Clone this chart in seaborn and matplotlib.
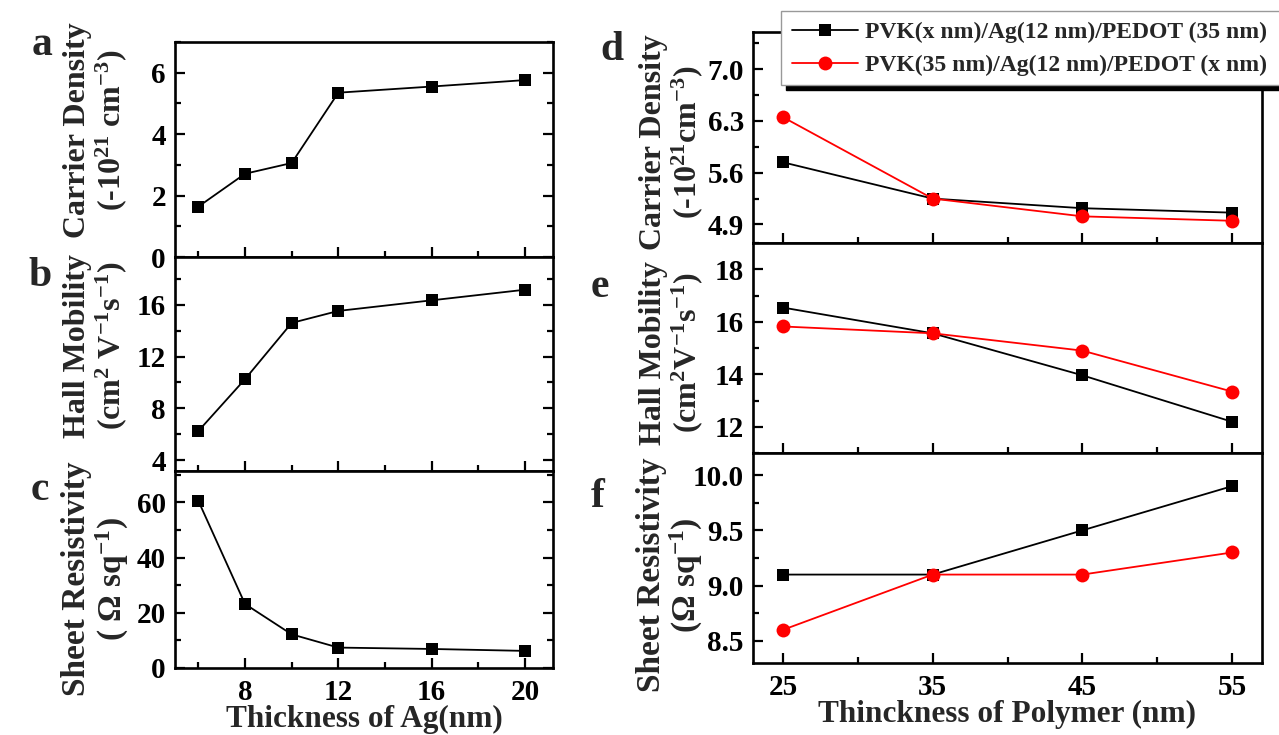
import numpy as np
import pandas as pd
import matplotlib
matplotlib.use("Agg")
import matplotlib.pyplot as plt
from matplotlib.patches import Rectangle
from matplotlib.ticker import MultipleLocator, FormatStrFormatter
import seaborn as sns

# ---- data: Ag thickness series (panels a-c) ----
ag_thickness = [6, 8, 10, 12, 16, 20]
carrier_density_ag = [1.64, 2.71, 3.06, 5.35, 5.55, 5.76]
hall_mobility_ag = [6.24, 10.25, 14.6, 15.53, 16.35, 17.17]
sheet_res_ag = [60.6, 23.2, 12.2, 7.4, 6.9, 6.2]

# ---- data: polymer thickness series (panels d-f) ----
polymer_thickness = [25, 35, 45, 55]
series_names = ["PVK(x nm)/Ag(12 nm)/PEDOT (35 nm)",
                "PVK(35 nm)/Ag(12 nm)/PEDOT (x nm)"]
carrier_density_pvk = [5.74, 5.25, 5.12, 5.06]
carrier_density_pedot = [6.35, 5.25, 5.01, 4.95]
hall_mobility_pvk = [16.54, 15.56, 13.96, 12.19]
hall_mobility_pedot = [15.82, 15.56, 14.9, 13.34]
sheet_res_pvk = [9.1, 9.1, 9.5, 9.9]
sheet_res_pedot = [8.6, 9.1, 9.1, 9.3]

sns.set_style("ticks")
plt.rcParams["font.family"] = ["Liberation Serif", "DejaVu Serif"]
plt.rcParams["font.weight"] = "bold"
plt.rcParams["axes.labelweight"] = "bold"
plt.rcParams["mathtext.fontset"] = "custom"
plt.rcParams["mathtext.rm"] = "Liberation Serif:bold"
plt.rcParams["mathtext.it"] = "Liberation Serif:bold"
plt.rcParams["mathtext.bf"] = "Liberation Serif:bold"
plt.rcParams["mathtext.default"] = "rm"

W, H = 1279, 735
fig = plt.figure(figsize=(W / 100, H / 100), dpi=100)


def px_axes(left, top, right, bottom):
    return fig.add_axes([left / W, 1 - bottom / H, (right - left) / W, (bottom - top) / H])


ax_a = px_axes(175, 42, 553, 257)
ax_b = px_axes(175, 257, 553, 471)
ax_c = px_axes(175, 471, 553, 668)
ax_d = px_axes(753, 32, 1262, 243)
ax_e = px_axes(753, 243, 1262, 453)
ax_f = px_axes(753, 453, 1262, 663)

df_ag = pd.DataFrame({"thk": ag_thickness, "n": carrier_density_ag,
                      "mu": hall_mobility_ag, "rs": sheet_res_ag})
df_pvk = pd.DataFrame({"thk": polymer_thickness, "n": carrier_density_pvk,
                       "mu": hall_mobility_pvk, "rs": sheet_res_pvk})
df_pedot = pd.DataFrame({"thk": polymer_thickness, "n": carrier_density_pedot,
                         "mu": hall_mobility_pedot, "rs": sheet_res_pedot})

line_kw = dict(linewidth=1.3, markeredgewidth=0)

for ax, col in [(ax_a, "n"), (ax_b, "mu"), (ax_c, "rs")]:
    sns.lineplot(data=df_ag, x="thk", y=col, ax=ax, color="black", marker="s",
                 markersize=8.5, legend=False, **line_kw)

for ax, col in [(ax_d, "n"), (ax_e, "mu"), (ax_f, "rs")]:
    sns.lineplot(data=df_pvk, x="thk", y=col, ax=ax, color="black", marker="s",
                 markersize=8.5, label=series_names[0], **line_kw)
    sns.lineplot(data=df_pedot, x="thk", y=col, ax=ax, color="#ff0000", marker="o",
                 markersize=10, label=series_names[1], **line_kw)

handles, labels = ax_d.get_legend_handles_labels()
for ax in (ax_d, ax_e, ax_f):
    if ax.get_legend() is not None:
        ax.get_legend().remove()

# axis limits and ticks
ax_a.set_ylim(0, 7)
ax_a.yaxis.set_major_locator(MultipleLocator(2))
ax_a.yaxis.set_minor_locator(MultipleLocator(1))
ax_b.set_ylim(3.15, 19.7)
ax_b.yaxis.set_major_locator(MultipleLocator(4))
ax_b.yaxis.set_minor_locator(MultipleLocator(2))
ax_c.set_ylim(0, 71.4)
ax_c.yaxis.set_major_locator(MultipleLocator(20))
ax_c.yaxis.set_minor_locator(MultipleLocator(10))
for ax in (ax_a, ax_b, ax_c):
    ax.set_xlim(5, 21.2)
    ax.set_xticks([8, 12, 16, 20])
    ax.set_xticks([6, 10, 14, 18], minor=True)

ax_d.set_ylim(4.65, 7.5)
ax_d.set_yticks([4.9, 5.6, 6.3, 7.0])
ax_d.set_yticks([5.25, 5.95, 6.65, 7.35], minor=True)
ax_d.yaxis.set_major_formatter(FormatStrFormatter("%.1f"))
ax_e.set_ylim(11, 19)
ax_e.yaxis.set_major_locator(MultipleLocator(2))
ax_e.yaxis.set_minor_locator(MultipleLocator(1))
ax_f.set_ylim(8.3, 10.2)
ax_f.yaxis.set_major_locator(MultipleLocator(0.5))
ax_f.yaxis.set_minor_locator(MultipleLocator(0.25))
ax_f.yaxis.set_major_formatter(FormatStrFormatter("%.1f"))
for ax in (ax_d, ax_e, ax_f):
    ax.set_xlim(23, 57)
    ax.set_xticks([25, 35, 45, 55])
    ax.set_xticks([30, 40, 50], minor=True)

for ax in (ax_a, ax_b, ax_c, ax_d, ax_e, ax_f):
    for s in ax.spines.values():
        s.set_linewidth(1.9)
        s.set_color("black")
    ax.tick_params(which="both", direction="in", width=1.6, labelsize=21,
                   colors="black")
    ax.tick_params(axis="y", pad=6.5)
    ax.tick_params(axis="x", pad=8)
    ax.tick_params(which="major", length=7)
    ax.tick_params(which="minor", length=4.5)
    ax.set_xlabel("")
    ax.set_ylabel("")
    for t in ax.get_xticklabels() + ax.get_yticklabels():
        t.set_fontweight("bold")

for ax in (ax_a, ax_b, ax_c):
    ax.tick_params(which="both", right=True)
for ax in (ax_a, ax_b, ax_d, ax_e):
    ax.tick_params(which="both", labelbottom=False)

# (axes, text, x in axes coords, y centre in axes coords, font size)
ylabels = [
    (ax_a, "Carrier Density\n(-10$^{21}$ cm$^{-3}$)", -0.209, 0.59, 23),
    (ax_b, "Hall Mobility\n(cm$^{2}$ V$^{-1}$s$^{-1}$)", -0.209, 0.584, 23),
    (ax_c, "Sheet Resistivity\n( Ω sq$^{-1}$)", -0.209, 0.452, 24),
    (ax_d, "Carrier Density\n(-10$^{21}$cm$^{-3}$)", -0.159, 0.479, 23),
    (ax_e, "Hall Mobility\n(cm$^{2}$V$^{-1}$s$^{-1}$)", -0.159, 0.476, 23),
    (ax_f, "Sheet Resistivity\n(Ω sq$^{-1}$)", -0.162, 0.419, 24),
]
for ax, text, xc, yc, fs in ylabels:
    ax.set_ylabel(text, fontsize=fs, fontweight="bold", linespacing=1.05)
    ax.yaxis.label.set_va("center")
    ax.yaxis.set_label_coords(xc, yc)

ax_c.set_xlabel("Thickness of Ag(nm)", fontsize=22.5, fontweight="bold", labelpad=-1)
ax_f.set_xlabel("Thinckness of Polymer (nm)", fontsize=22.5, fontweight="bold", labelpad=-1)

for letter, x, y in [("a", 42, 45), ("b", 40, 276), ("c", 40, 490),
                     ("d", 612, 50), ("e", 600, 287), ("f", 598, 497)]:
    fig.text(x / W, 1 - y / H, letter, fontsize=30, fontweight="bold",
             ha="center", va="center")

# legend: white box running off the right edge, with a solid bar beneath it
fig.add_artist(Rectangle((781 / W, 1 - 85 / H), (W + 20 - 781) / W, 74 / H,
                         transform=fig.transFigure, facecolor="white",
                         edgecolor="0.6", linewidth=1.0, zorder=5.5))
fig.add_artist(Rectangle((786 / W, 1 - 90 / H), (W - 786) / W, 5.5 / H,
                         transform=fig.transFigure, color="black", zorder=5))
leg = fig.legend(handles, labels, loc="upper left",
                 bbox_to_anchor=(781 / W, 1 - 11 / H), borderaxespad=0,
                 frameon=False, handlelength=2.8, borderpad=0.45,
                 labelspacing=0.5, handletextpad=0.3,
                 prop={"weight": "bold", "size": 17})
leg.set_zorder(6)

fig.savefig("out.png", dpi=100)
